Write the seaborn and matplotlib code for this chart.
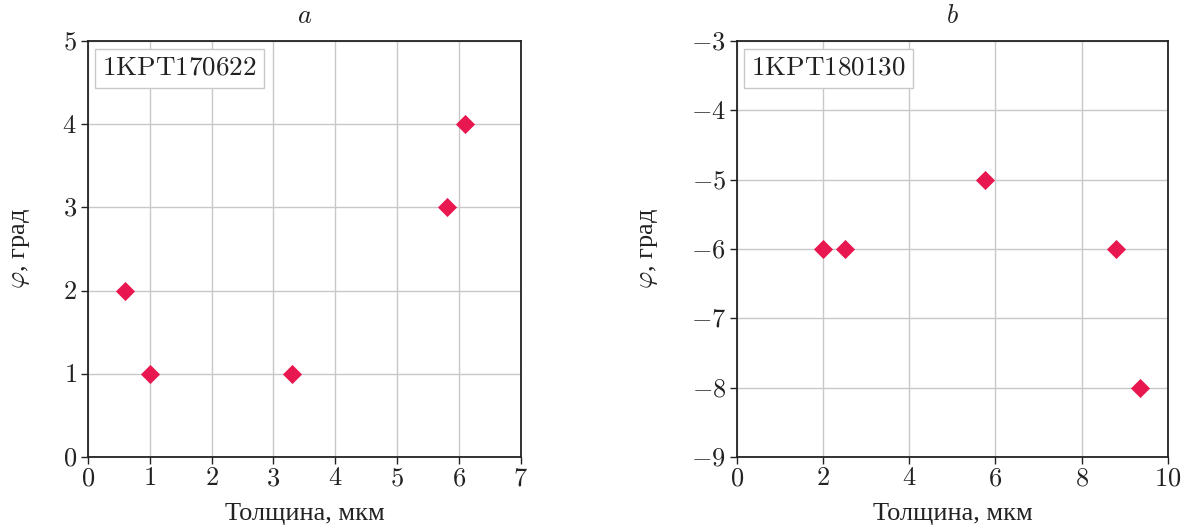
import matplotlib
matplotlib.use("Agg")
import matplotlib.pyplot as plt
import seaborn as sns
import pandas as pd
from matplotlib.ticker import FuncFormatter

# Measurements for the two samples
thickness_a = [0.6, 1.0, 3.3, 5.8, 6.1]
phi_a = [2, 1, 1, 3, 4]
thickness_b = [2.0, 2.5, 5.75, 8.8, 9.35]
phi_b = [-6, -6, -5, -6, -8]

sample_a = "1KPT170622"
sample_b = "1KPT180130"

xticks_a = [0, 1, 2, 3, 4, 5, 6, 7]
yticks_a = [0, 1, 2, 3, 4, 5]
xticks_b = [0, 2, 4, 6, 8, 10]
yticks_b = [-9, -8, -7, -6, -5, -4, -3]

xlabel = "Толщина, мкм"
ylabel = r"$\varphi$, град"
marker_color = "#E8174F"

sns.set_theme(style="white")
plt.rcParams["mathtext.fontset"] = "cm"
plt.rcParams["font.family"] = ["Liberation Serif", "DejaVu Serif"]

fig = plt.figure(figsize=(11.89, 5.27), dpi=100)
ax_a = fig.add_axes([0.074, 0.133, 0.364, 0.789])
ax_b = fig.add_axes([0.620, 0.133, 0.362, 0.789])

fmt = FuncFormatter(lambda v, p: f"${v:g}$")

panels = [
    (ax_a, thickness_a, phi_a, sample_a, xticks_a, yticks_a, "$a$"),
    (ax_b, thickness_b, phi_b, sample_b, xticks_b, yticks_b, "$b$"),
]

for ax, xs, ys, name, xt, yt, title in panels:
    df = pd.DataFrame({"x": xs, "y": ys})
    ax.grid(True, color="#c8c8c8", linewidth=1.0)
    ax.set_axisbelow(True)
    sns.scatterplot(data=df, x="x", y="y", marker="D", s=95, color=marker_color,
                    linewidth=0, ax=ax, zorder=3, clip_on=False)
    ax.set_xlim(xt[0], xt[-1])
    ax.set_ylim(yt[0], yt[-1])
    ax.set_xticks(xt)
    ax.set_yticks(yt)
    ax.xaxis.set_major_formatter(fmt)
    ax.yaxis.set_major_formatter(fmt)
    ax.tick_params(axis="both", which="major", direction="out", length=5, width=1,
                   color="#222222", labelsize=19, left=True, bottom=True, pad=3,
                   labelcolor="#222222")
    for sp in ax.spines.values():
        sp.set_color("#222222")
        sp.set_linewidth(1.3)
    ax.set_xlabel(xlabel, fontsize=19, color="#222222", labelpad=9)
    ax.set_ylabel(ylabel, fontsize=19, color="#222222", labelpad=22)
    ax.set_title(title, fontsize=19, color="#222222", pad=13)
    ax.text(0.033, 0.965, r"$\mathrm{" + name + "}$", transform=ax.transAxes,
            fontsize=19.5, color="#222222", va="top", ha="left",
            bbox=dict(boxstyle="square,pad=0.26", facecolor="white",
                      edgecolor="#c8c8c8", linewidth=1.0))

fig.savefig("out.png", dpi=100)
